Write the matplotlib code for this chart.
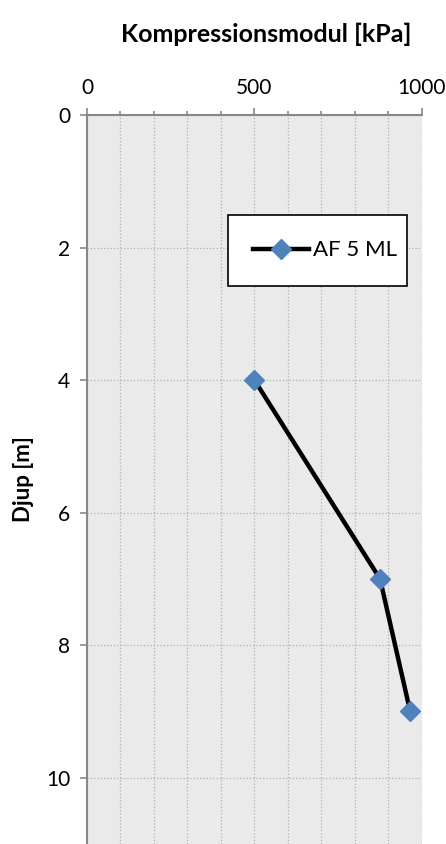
import matplotlib.pyplot as plt
from matplotlib.ticker import MultipleLocator

# data
modul = [500, 875, 965]   # kPa
djup = [4, 7, 9]          # m
serie = 'AF 5 ML'

plt.rcParams['font.family'] = ['Lato', 'DejaVu Sans']

fig = plt.figure(figsize=(4.46, 8.44), dpi=100)
ax = fig.add_axes([0.195, 0.0, 0.751, 0.8637])

ax.set_facecolor('#eaeaea')
ax.plot(modul, djup, '-', color='black', lw=3.2, marker='D', ms=10,
        mfc='#4f81bd', mec='#4f81bd', label=serie, zorder=3)

ax.set_xlim(0, 1000)
ax.set_ylim(11, 0)
ax.xaxis.set_major_locator(MultipleLocator(500))
ax.xaxis.set_minor_locator(MultipleLocator(100))
ax.yaxis.set_major_locator(MultipleLocator(2))
ax.xaxis.tick_top()
ax.xaxis.set_label_position('top')

ax.grid(which='both', axis='x', color='#b0b0b0', ls=':', lw=0.9)
ax.grid(which='major', axis='y', color='#b0b0b0', ls=':', lw=0.9)
ax.set_axisbelow(True)

for s in ['right', 'bottom']:
    ax.spines[s].set_visible(False)
for s in ['top', 'left']:
    ax.spines[s].set_color('#888888')
    ax.spines[s].set_linewidth(1.5)

ax.tick_params(which='major', length=5, width=1.2, color='#888888', labelsize=15, pad=7)
ax.tick_params(which='minor', length=3, width=1.2, color='#888888')

ax.set_xlabel('Kompressionsmodul [kPa]', fontsize=18, fontweight='bold')
ax.xaxis.set_label_coords(0.536, 1.10)
ax.set_ylabel('Djup [m]', fontsize=16, fontweight='bold', labelpad=9)

# legend box placed where it sits in the original
leg = ax.legend(loc='upper left', bbox_to_anchor=(0.42, 0.757, 0.535, 0.106),
                mode='expand', fontsize=16, frameon=True, fancybox=False,
                borderaxespad=0, handlelength=2.5, handletextpad=0.2,
                borderpad=1.15)
leg.get_frame().set_edgecolor('black')
leg.get_frame().set_linewidth(1.2)
leg.get_frame().set_facecolor('white')
leg.get_frame().set_alpha(1)

fig.savefig('out.png', dpi=100)
